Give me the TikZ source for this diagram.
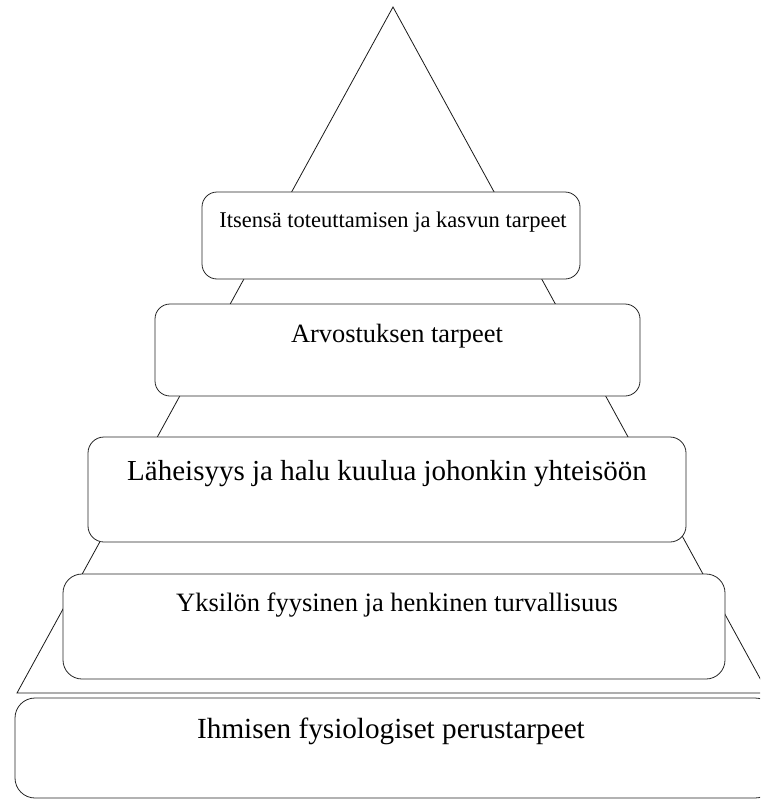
\documentclass[tikz,border=0pt]{standalone}
\usepackage{fontspec}
\setmainfont{Liberation Serif}
\begin{document}
\begin{tikzpicture}[x=1pt,y=-1pt,
  layerbox/.style={draw=black!85, line width=0.8pt, fill=white, inner sep=0pt},
  layertext/.style={anchor=base, inner sep=0pt, text=black}]
\useasboundingbox (0,0) rectangle (760,800);
\clip (0,0) rectangle (760,800);
% pyramid outline
\coordinate (apex) at (393,7);
\coordinate (bl) at (17,693);
\coordinate (br) at (768,693);
\draw[line width=0.8pt, black!90] (apex) -- (bl) -- (br) -- cycle;
% boxes
\node[layerbox, rounded corners=15pt, minimum width=378pt, minimum height=87pt] (b1) at (391,235.5) {};
\node[layerbox, rounded corners=15pt, minimum width=485pt, minimum height=92pt] (b2) at (397.5,350) {};
\node[layerbox, rounded corners=16pt, minimum width=598pt, minimum height=105pt] (b3) at (387,489.5) {};
\node[layerbox, rounded corners=19pt, minimum width=662pt, minimum height=105pt] (b4) at (394,626.5) {};
\node[layerbox, rounded corners=20pt, minimum width=760pt, minimum height=100pt] (b5) at (395,748) {};
% texts
\node[layertext, font=\fontsize{22.5}{26}\selectfont] (t1) at (393,227) {Itsensä toteuttamisen ja kasvun tarpeet};
\node[layertext, font=\fontsize{26.4}{30}\selectfont] (t2) at (397,342) {Arvostuksen tarpeet};
\node[layertext, font=\fontsize{29}{33}\selectfont] (t3) at (387,480) {Läheisyys ja halu kuulua johonkin yhteisöön};
\node[layertext, font=\fontsize{26.5}{30}\selectfont] (t4) at (397,611) {Yksilön fyysinen ja henkinen turvallisuus};
\node[layertext, font=\fontsize{29.2}{33}\selectfont] (t5) at (391,738) {Ihmisen fysiologiset perustarpeet};
\end{tikzpicture}
\end{document}
